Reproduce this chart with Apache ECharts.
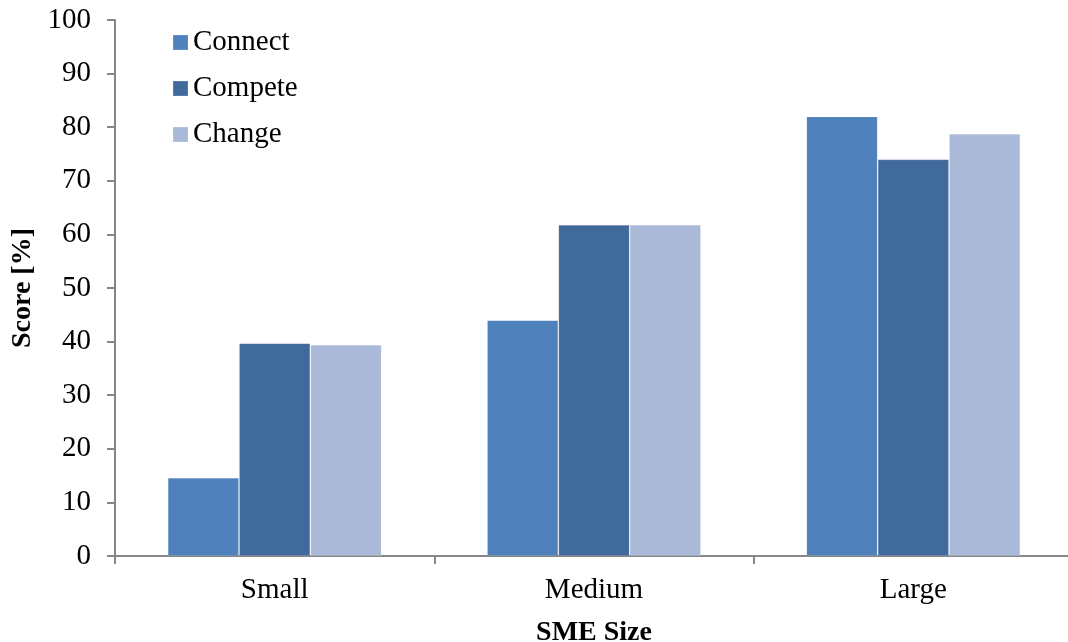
<!DOCTYPE html>
<html>
<head>
<meta charset="utf-8">
<script src="https://cdn.jsdelivr.net/npm/echarts@6/dist/echarts.min.js"></script>
<style>
  html, body { margin: 0; padding: 0; background: #fff; }
  #chart { width: 1068px; height: 642px; }
</style>
</head>
<body>
<div id="chart"></div>
<script>
// SME digital maturity scores by company size
const categories = ['Small', 'Medium', 'Large'];
const connect = [14.6, 44.0, 82.0];
const compete = [39.7, 61.8, 74.0];
const change  = [39.4, 61.8, 78.8];
const yTicks = { min: 0, max: 100, interval: 10 };

const FONT = '"Liberation Serif", "Times New Roman", serif';
const AXIS_GREY = '#868686';

const chart = echarts.init(document.getElementById('chart'), null, { renderer: 'canvas' });

const barStyle = (color) => ({
  color: color,
  borderColor: 'rgba(255,255,255,0.12)',
  borderWidth: 1
});

chart.setOption({
  animation: false,
  backgroundColor: '#ffffff',
  // plot area runs slightly past the right edge of the canvas
  grid: { left: 115, top: 20, width: 958, height: 536, outerBoundsMode: 'none', containLabel: false },
  legend: {
    orient: 'vertical',
    left: 172,
    top: 28,
    padding: 0,
    itemWidth: 15,
    itemHeight: 15,
    itemGap: 17,
    icon: 'rect',
    textStyle: { fontFamily: FONT, fontSize: 29, color: '#000', lineHeight: 26 },
    data: ['Connect', 'Compete', 'Change']
  },
  xAxis: {
    type: 'category',
    data: categories,
    name: 'SME Size',
    nameLocation: 'middle',
    nameGap: 63,
    nameTextStyle: { fontFamily: FONT, fontSize: 28, fontWeight: 'bold', color: '#000' },
    axisLine: { lineStyle: { color: AXIS_GREY, width: 2 } },
    axisTick: { show: true, length: 8, lineStyle: { color: AXIS_GREY, width: 2 } },
    axisLabel: { fontFamily: FONT, fontSize: 29, color: '#000', margin: 20 }
  },
  yAxis: {
    type: 'value',
    min: yTicks.min,
    max: yTicks.max,
    interval: yTicks.interval,
    name: 'Score [%]',
    nameLocation: 'middle',
    nameGap: 78,
    nameTextStyle: { fontFamily: FONT, fontSize: 28, fontWeight: 'bold', color: '#000' },
    axisLine: { show: true, lineStyle: { color: AXIS_GREY, width: 2 } },
    axisTick: { show: true, length: 8, lineStyle: { color: AXIS_GREY, width: 2 } },
    splitLine: { show: false },
    axisLabel: { fontFamily: FONT, fontSize: 29, color: '#000', margin: 24 }
  },
  series: [
    { name: 'Connect', type: 'bar', data: connect, barGap: '0%', barCategoryGap: '33%', itemStyle: barStyle('#4F81BD') },
    { name: 'Compete', type: 'bar', data: compete, barGap: '0%', barCategoryGap: '33%', itemStyle: barStyle('#3F6A9B') },
    { name: 'Change',  type: 'bar', data: change,  barGap: '0%', barCategoryGap: '33%', itemStyle: barStyle('#AAB9D7') }
  ]
});
</script>
</body>
</html>
